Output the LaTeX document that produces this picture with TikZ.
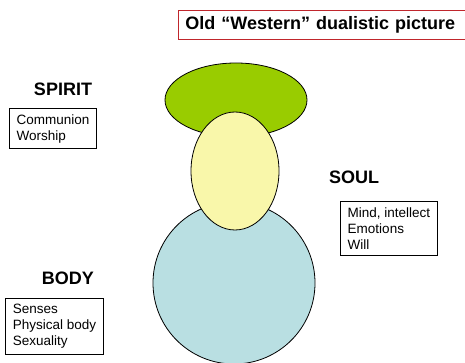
\documentclass[tikz,border=0pt]{standalone}
\usepackage{fontspec}
\setmainfont{Liberation Sans}
\usepackage{xcolor}
\usetikzlibrary{shapes, positioning}

\definecolor{spiritgreen}{HTML}{99CC00}
\definecolor{soulyellow}{HTML}{F9F7AA}
\definecolor{bodyblue}{HTML}{B9DFE2}
\definecolor{titlered}{HTML}{C0262C}

\begin{document}
\begin{tikzpicture}[
            x=1pt, y=-1pt,
            part/.style={ellipse, draw, line width=0.8pt, inner sep=0pt},
            heading/.style={font=\fontsize{18}{21}\selectfont\bfseries},
            tag/.style={rectangle, draw, line width=0.8pt, align=left, inner xsep=7pt, inner ysep=6pt, font=\fontsize{13.5}{16}\selectfont}
        ]
            \useasboundingbox (0,0) rectangle (465,363);

            \node[heading, draw=titlered, line width=0.8pt, anchor=west, text width=278pt, minimum height=29pt, inner xsep=7pt] (title) at (178,24.5) {Old “Western” dualistic picture};

            % the three parts
            \node[part, fill=spiritgreen, minimum width=142pt, minimum height=74pt] (spiritpart) at (236,100) {};
            \node[part, circle, fill=bodyblue, minimum size=162pt] (bodypart) at (234,283) {};
            \node[part, fill=soulyellow, minimum width=88pt, minimum height=118pt] (soulpart) at (235,171) {};

            \node[heading] (spirit) at (63,89) {SPIRIT};
            \node[tag, below=9pt of spirit, xshift=-10pt] (spiritbox) {Communion\\Worship};

            \node[heading] (soul) at (354,177.5) {SOUL};
            \node[tag, below=14pt of soul, xshift=35pt] (soulbox) {Mind, intellect\\Emotions\\Will};

            \node[heading] (body) at (68,278) {BODY};
            \node[tag, below=10pt of body, xshift=-13.5pt] (bodybox) {Senses\\Physical body\\Sexuality};
        \end{tikzpicture}
\end{document}
